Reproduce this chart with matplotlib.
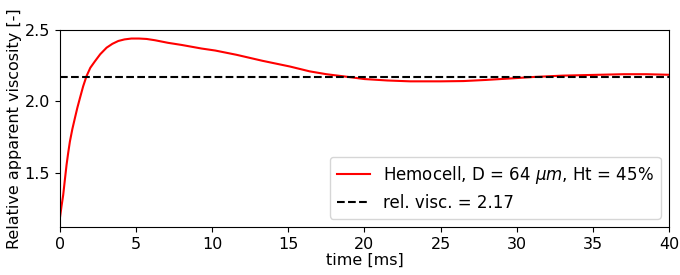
import numpy as np
import matplotlib.pyplot as plt

# time [ms] and relative apparent viscosity
t = [0, 0.11, 0.22, 0.33, 0.44, 0.55, 0.66, 0.82, 0.99, 1.15, 1.32, 1.53,
     1.75, 2.0, 2.3, 2.65, 3.07, 3.45, 3.84, 4.25, 4.7, 5.2, 5.7, 6.25,
     7.1, 8.0, 9.3, 10.2, 11.6, 13.3, 15.1, 16.4, 17.5, 18.7, 20.0, 21.5,
     23.0, 25.0, 26.5, 28.0, 30.0, 31.0, 33.0, 35.0, 37.0, 38.5, 40.0]
visc = [1.178, 1.265, 1.343, 1.45, 1.554, 1.64, 1.718, 1.805, 1.883, 1.955,
        2.023, 2.105, 2.176, 2.235, 2.28, 2.33, 2.376, 2.403, 2.423, 2.434,
        2.44, 2.44, 2.437, 2.428, 2.41, 2.395, 2.37, 2.356, 2.326, 2.284,
        2.244, 2.21, 2.19, 2.174, 2.156, 2.146, 2.14, 2.14, 2.142, 2.15,
        2.163, 2.17, 2.18, 2.185, 2.19, 2.19, 2.186]
rel_visc = 2.17

fs = 11.5
fig, ax = plt.subplots(figsize=(6.8, 2.75), dpi=100)
fig.subplots_adjust(left=0.088, right=0.984, top=0.891, bottom=0.175)
ax.plot(t, visc, color="red", lw=1.5,
        label=r"Hemocell, D = 64 $\mu m$, Ht = 45%")
ax.axhline(rel_visc, color="black", linestyle="--", lw=1.5,
           label="rel. visc. = %.2f" % rel_visc)
ax.set_xlim(0, 40)
ax.set_ylim(1.12, 2.5)
ax.set_xticks([0, 5, 10, 15, 20, 25, 30, 35, 40])
ax.set_yticks([1.5, 2.0, 2.5])
ax.tick_params(labelsize=fs)
ax.set_xlabel("time [ms]", fontsize=fs, labelpad=1)
ax.set_ylabel("Relative apparent viscosity [-]", fontsize=fs, labelpad=2)
ax.legend(loc="lower right", fontsize=12)
fig.savefig("out.png")
